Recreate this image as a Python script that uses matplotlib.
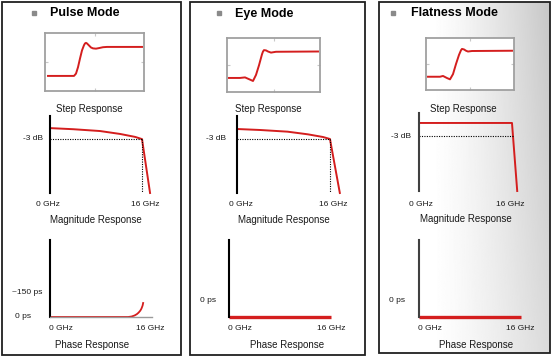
"""
Step / magnitude / phase response for the three filter modes.
"""

import numpy as np
import matplotlib.pyplot as plt
from matplotlib.patches import Rectangle

W, H = 554, 359
RED = "#d41e1e"

plt.rcParams['font.family'] = ['Liberation Sans', 'DejaVu Sans']

# --- DATOS ---
modes = ["Pulse Mode", "Eye Mode", "Flatness Mode"]

# step response (t in arbitrary units, v normalised 0 -> 1)
step_t_pulse = [3, 29, 31, 33, 35, 37, 39, 40, 41, 42, 44, 46, 48, 51, 54, 58, 62, 97]
step_v_pulse = [0, 0, 0.08, 0.3, 0.6, 0.88, 1.06, 1.12, 1.14, 1.12, 1.05, 0.98, 0.95, 0.94, 0.96, 0.99, 1.0, 1.0]
step_t_eye = [2, 13, 18, 23, 26, 29, 32, 35, 36, 37, 39, 41, 44, 49, 91]
step_v_eye = [0.04, 0.04, 0.06, -0.02, -0.07, 0.15, 0.5, 0.9, 1.0, 1.05, 1.04, 1.0, 0.96, 0.99, 1.0]
step_t_flat = [2, 14, 17, 21, 24, 27, 30, 33, 35, 36, 38, 40, 42, 46, 86]
step_v_flat = [0, 0, 0.03, -0.05, -0.1, 0.1, 0.49, 0.84, 1.02, 1.07, 1.05, 1.0, 0.97, 0.99, 1.0]

# magnitude response (GHz, dB)
mag_f_pulse = [0, 4, 8.7, 12.2, 14.8, 16.0, 17.4]
mag_db_pulse = [0, -0.3, -0.8, -1.6, -2.4, -3.0, -17.7]
mag_f_eye = [0, 4, 8.7, 12.2, 14.8, 16.0, 17.7]
mag_db_eye = [0, -0.3, -0.8, -1.6, -2.4, -3.0, -19.2]
mag_f_flat = [0, 16.0, 16.9]
mag_db_flat = [0, 0, -15.7]

# phase response (GHz, ps)
phase_f_pulse = [0, 13.6, 14.2, 14.7, 15.1, 15.4, 15.7, 15.9, 16.1, 16.2]
phase_ps_pulse = [0, 0, 3, 9, 17, 26, 38, 50, 68, 84]
phase_f_eye = [0, 17.7]
phase_ps_eye = [0, 0]
phase_f_flat = [0, 17.7]
phase_ps_flat = [0, 0]


def px_axes(fig, x0, y0, x1, y1):
    return fig.add_axes([x0 / W, 1 - y1 / H, (x1 - x0) / W, (y1 - y0) / H])


def step_axes(fig, box, t, v, tmax, ylim):
    ax = px_axes(fig, *box)
    ax.plot(t, v, color=RED, lw=1.4)
    ax.set_xlim(0, tmax)
    ax.set_ylim(*ylim)
    ax.set_xticks([tmax / 2])
    ax.set_yticks([(ylim[0] + ylim[1]) / 2])
    ax.tick_params(direction='in', length=2.5, color='#c8c8c8',
                   labelbottom=False, labelleft=False, top=True, right=True)
    for s in ax.spines.values():
        s.set_color('#a0a0a0')
        s.set_linewidth(1.3)
    ax.set_facecolor('white')
    return ax


def bare_axes(fig, box, xlim, ylim, axis_color='black'):
    ax = px_axes(fig, *box)
    ax.set_xlim(*xlim)
    ax.set_ylim(*ylim)
    ax.patch.set_alpha(0)
    for k in ['top', 'right', 'bottom']:
        ax.spines[k].set_visible(False)
    ax.spines['left'].set_color(axis_color)
    ax.spines['left'].set_linewidth(1.5)
    ax.set_xticks([])
    ax.set_yticks([])
    return ax


fig = plt.figure(figsize=(W / 100, H / 100), dpi=100)
bg = fig.add_axes([0, 0, 1, 1])
bg.set_xlim(0, W)
bg.set_ylim(H, 0)
bg.axis('off')

# gradient behind the third panel
gx = np.linspace(0, 1, 200)
gy = np.linspace(0, 1, 100)
GX, GY = np.meshgrid(gx, gy)
shade = 1 - 0.22 * np.clip((GX - 0.3) / 0.7, 0, 1) ** 1.3 * (1 - 0.35 * GY)
bg.imshow(shade, cmap='gray', vmin=0, vmax=1, extent=(379, 550, 353, 2),
          aspect='auto', zorder=0)

# panel frames
for x0, y0, x1, y1 in [(1.5, 1.5, 181, 355), (190, 1.5, 365, 355), (379, 2, 550, 353)]:
    bg.add_patch(Rectangle((x0, y0), x1 - x0, y1 - y0, fill=False,
                           edgecolor='#202020', lw=1.3, zorder=2))

# titles
for (bx, tx), name in zip([(34, 85), (219, 264), (393, 454)], modes):
    bg.plot(bx, 13, marker='s', ms=2.6, color='#8a8a8a', zorder=3)
    bg.text(tx, 13.5, name, ha='center', va='center', fontsize=9,
            fontweight='bold', color='black')

# step responses
step_axes(fig, (45, 33, 144, 91), step_t_pulse, step_v_pulse, 99, (-0.52, 1.48))
step_axes(fig, (227, 38, 320, 92), step_t_eye, step_v_eye, 93, (-0.47, 1.49))
step_axes(fig, (426, 38, 514, 90), step_t_flat, step_v_flat, 88, (-0.51, 1.49))

# magnitude responses
ax = bare_axes(fig, (50, 116, 160, 193), (0, 19.13), (-17.7, 3.3))
ax.plot(mag_f_pulse, mag_db_pulse, color=RED, lw=1.4, clip_on=False)
ax.plot([0, 16], [-3, -3], color='black', lw=0.8, ls=(0, (1, 1.2)))
ax.plot([16, 16], [-3, -17.7], color='black', lw=0.8, ls=(0, (1, 1.2)))

ax = bare_axes(fig, (237, 116, 350, 193), (0, 19.45), (-19.2, 3.9))
ax.plot(mag_f_eye, mag_db_eye, color=RED, lw=1.4, clip_on=False)
ax.plot([0, 16], [-3, -3], color='black', lw=0.8, ls=(0, (1, 1.2)))
ax.plot([16, 16], [-3, -19.2], color='black', lw=0.8, ls=(0, (1, 1.2)))

ax = bare_axes(fig, (419, 113, 530, 191), (0, 19.1), (-15.7, 2.3), '#404040')
ax.plot(mag_f_flat, mag_db_flat, color=RED, lw=1.4, clip_on=False)
ax.plot([0, 16.2], [-3, -3], color='black', lw=0.8, ls=(0, (1, 1.2)))

# phase responses
ax = bare_axes(fig, (50, 240, 152, 317), (0, 17.74), (0, 462))
ax.spines['bottom'].set_visible(True)
ax.spines['bottom'].set_color('#9a9a9a')
ax.spines['bottom'].set_linewidth(1.0)
ax.plot(phase_f_pulse, phase_ps_pulse, color=RED, lw=1.3, clip_on=False)

ax = bare_axes(fig, (229, 240, 331, 317), (0, 17.7), (0, 462))
ax.plot(phase_f_eye, phase_ps_eye, color=RED, lw=2.4, clip_on=False,
        solid_capstyle='butt')

ax = bare_axes(fig, (419, 240, 521, 317), (0, 17.7), (0, 462), '#404040')
ax.plot(phase_f_flat, phase_ps_flat, color=RED, lw=2.4, clip_on=False,
        solid_capstyle='butt')

# captions and axis labels
labels = [
    (89, 109, "Step Response", 7), (268, 109, "Step Response", 7),
    (463, 109, "Step Response", 7),
    (96, 220, "Magnitude Response", 7), (284, 220, "Magnitude Response", 7),
    (466, 219, "Magnitude Response", 7),
    (92, 345, "Phase Response", 7), (287, 345, "Phase Response", 7),
    (476, 345, "Phase Response", 7),
    (33, 139, "-3 dB", 6), (216, 139, "-3 dB", 6), (401, 136, "-3 dB", 6),
    (48, 204, "0 GHz", 6), (145, 204, "16 GHz", 6),
    (241, 204, "0 GHz", 6), (333, 204, "16 GHz", 6),
    (421, 204, "0 GHz", 6), (510, 204, "16 GHz", 6),
    (27, 292, "~150 ps", 6), (23, 316, "0 ps", 6),
    (208, 301, "0 ps", 6), (397, 301, "0 ps", 6),
    (61, 329, "0 GHz", 6), (150, 329, "16 GHz", 6),
    (240, 329, "0 GHz", 6), (331, 329, "16 GHz", 6),
    (430, 329, "0 GHz", 6), (520, 329, "16 GHz", 6),
]
for x, y, s, fs in labels:
    bg.text(x, y, s, ha='center', va='center', fontsize=fs, color='#1a1a1a')

fig.savefig("out.png", dpi=100)
